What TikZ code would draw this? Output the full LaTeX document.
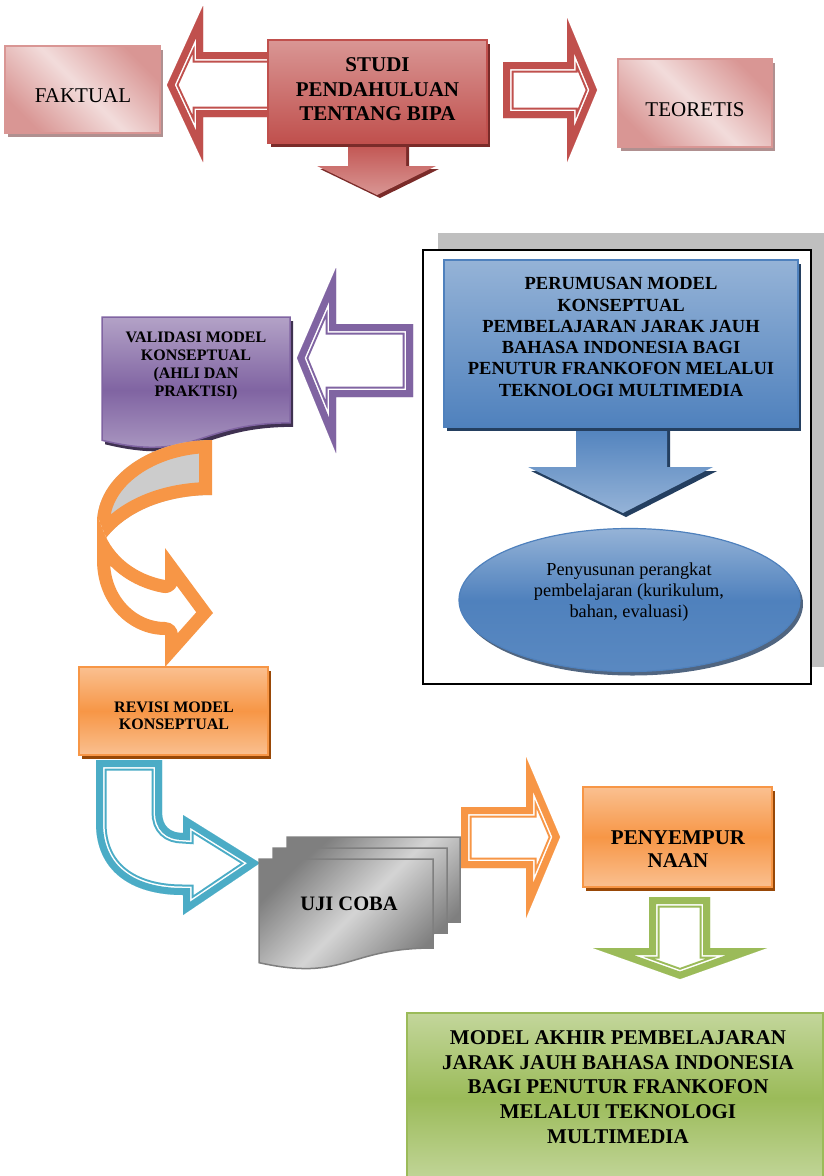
\documentclass[tikz,border=0pt]{standalone}
\usepackage{fontspec}
\setmainfont{Liberation Serif}
\usetikzlibrary{shapes.geometric,shadows}
\definecolor{redA}{HTML}{C0504D}
\definecolor{redL}{HTML}{D99694}
\definecolor{redP}{HTML}{F2DCDB}
\definecolor{redS}{HTML}{7A2B29}
\definecolor{pinkS}{HTML}{B09090}
\definecolor{blueA}{HTML}{4F81BD}
\definecolor{blueL}{HTML}{95B3D7}
\definecolor{blueS}{HTML}{243F60}
\definecolor{purA}{HTML}{8064A2}
\definecolor{purL}{HTML}{B3A2C7}
\definecolor{purS}{HTML}{3F3151}
\definecolor{oraA}{HTML}{F79646}
\definecolor{oraL}{HTML}{FAC090}
\definecolor{oraS}{HTML}{984807}
\definecolor{greA}{HTML}{9BBB59}
\definecolor{greL}{HTML}{C3D69B}
\definecolor{aqua}{HTML}{4BACC6}
\definecolor{grayS}{HTML}{BFBFBF}
\definecolor{docD}{HTML}{7F7F7F}
\definecolor{docL}{HTML}{D4D4D4}
\definecolor{crescent}{HTML}{CCCCCC}

\newcommand\hollowarrow[2]{%
  \begin{scope}
    \clip #2;
    \fill[white] #2;
    \draw[#1,line width=21pt,line join=miter] #2;
    \draw[white,line width=17pt,line join=miter] #2;
    \draw[#1,line width=14pt,line join=miter] #2;
  \end{scope}}
\newcommand\bandshape[3]{%
  \begin{scope}
    \clip #3;
    \fill[#2] #3;
    \draw[#1,line width=26pt,line join=round] #3;
  \end{scope}}
\newcommand\docshape[5]{%
  \path[#5] (#1,#2) -- ({#1+#3},#2) -- ({#1+#3},{#2+0.802*#4})
    .. controls ({#1+0.5*#3},{#2+0.802*#4}) and ({#1+0.5*#3},{#2+1.107*#4}) ..
    (#1,{#2+0.934*#4}) -- cycle;}

\begin{document}
\begin{tikzpicture}[x=1pt,y=-1pt,
  boxshadow/.style={general shadow={fill=#1,shadow xshift=3pt,shadow yshift=-4pt}},
  plain/.style={rectangle,inner sep=0,outer sep=0,line width=1.5pt},
  pinkbox/.style={plain,draw=redL,left color=redL,right color=redL,middle color=redP,shading angle=135,boxshadow=pinkS},
  redbox/.style={plain,draw=redA,top color=redL,bottom color=redA,boxshadow=redS},
  bluebox/.style={plain,draw=blueA,top color=blueL,bottom color=blueA,boxshadow=blueS},
  orabox/.style={plain,draw=oraA,top color=oraL,bottom color=oraL,middle color=oraA,boxshadow=oraS},
  grebox/.style={plain,draw=greA,line width=2pt,top color=greL,bottom color=greL,middle color=greA},
  tR/.style={font=\fontsize{21}{24.5}\selectfont,align=center,inner sep=0},
  tB/.style={font=\fontsize{21}{24.5}\selectfont\bfseries,align=center,inner sep=0},
  tBm/.style={font=\fontsize{18.5}{21.3}\selectfont\bfseries,align=center,inner sep=0},
  tRm/.style={font=\fontsize{18.3}{21}\selectfont,align=center,inner sep=0},
  tBs/.style={font=\fontsize{16}{18.2}\selectfont\bfseries,align=center,inner sep=0},
]
\useasboundingbox (0,0) rectangle (824,1176);

% ---------- top row ----------
\hollowarrow{redA}{(285,52) -- (203,52) -- (203,6) -- (167,85) -- (203,162) -- (203,117) -- (285,117) -- cycle}
\hollowarrow{redA}{(503,62) -- (567,62) -- (567,18) -- (597,90) -- (567,162) -- (567,118) -- (503,118) -- cycle}

\fill[redS] (351,140) -- (409,140) -- (409,169) -- (439,169) -- (380,198) -- (320,169) -- (351,169) -- cycle;
\shade[top color=redA,bottom color=redL] (348,140) -- (406,140) -- (406,166) -- (436,166) -- (377,195) -- (317,166) -- (348,166) -- cycle;

\node[pinkbox,minimum width=155,minimum height=87] (faktualbox) at (82.5,89.5) {};
\node[tR] (faktual) at (83,96) {FAKTUAL};

\node[redbox,minimum width=219,minimum height=103] (studibox) at (377.5,91.5) {};
\node[tB] (studi) at (377.5,89.5) {STUDI\\PENDAHULUAN\\TENTANG BIPA};

\node[pinkbox,minimum width=154,minimum height=88] (teoretisbox) at (695,103) {};
\node[tR] (teoretis) at (695,109.5) {TEORETIS};

% ---------- middle frame ----------
\fill[grayS] (438,233) rectangle (824,667);
\node[plain,draw=black,fill=white,minimum width=388,minimum height=434] (frame) at (617,467) {};

\fill[blueS] (579,425) -- (670,425) -- (670,471) -- (717,471) -- (626,517) -- (531,471) -- (579,471) -- cycle;
\shade[top color=blueA,bottom color=blueL] (576,425) -- (667,425) -- (667,467) -- (713,467) -- (623,513) -- (528,467) -- (576,467) -- cycle;

\node[bluebox,minimum width=354,minimum height=167] (perumusanbox) at (621,343.5) {};
\node[tBm] (perumusan) at (621,337) {PERUMUSAN MODEL\\KONSEPTUAL\\PEMBELAJARAN JARAK JAUH\\BAHASA INDONESIA BAGI\\PENUTUR FRANKOFON MELALUI\\TEKNOLOGI MULTIMEDIA};

\node[ellipse,inner sep=0,line width=1.2pt,draw=blueA,top color=blueL,bottom color=blueA!85!blueL,middle color=blueA,
      general shadow={fill=blueS!80,shadow xshift=3pt,shadow yshift=-4pt},
      minimum width=341,minimum height=143] (penyusunanbox) at (629.5,600) {};
\node[tRm] (penyusunan) at (629,592) {Penyusunan perangkat\\pembelajaran (kurikulum,\\bahan, evaluasi)};

% ---------- left column ----------
\hollowarrow{purA}{(413,324) -- (336,324) -- (336,268) -- (297,358) -- (336,453) -- (336,397) -- (413,397) -- cycle}

\docshape{105}{321}{188}{132}{fill=purS}
\docshape{102}{317}{188}{132}{draw=purA,line width=1.5pt,top color=purL,bottom color=purL,middle color=purA}
\node[tBs] (validasi) at (196,366) {VALIDASI MODEL\\KONSEPTUAL\\(AHLI DAN\\PRAKTISI)};

% curved orange arrow
\bandshape{oraA}{crescent}{(212,440) -- (212,495) .. controls (165,495) and (122,512) .. (101,545) -- (97,523) .. controls (97,477) and (150,440) .. (212,440) -- cycle}
\bandshape{oraA}{white}{(97,515) -- (97,560) .. controls (97,605) and (130,635) .. (165,635) -- (165,667) -- (213,613) -- (165,548) -- (165,580) .. controls (138,575) and (113,558) .. (103,530) -- cycle}

\node[orabox,minimum width=189,minimum height=88] (revisibox) at (173.5,711) {};
\node[tBs,font=\fontsize{16}{17.5}\selectfont\bfseries] (revisi) at (174,716) {REVISI MODEL\\KONSEPTUAL};

% curved blue arrow
\hollowarrow{aqua}{(96,760) -- (162,760) -- (162,812) .. controls (162,826) and (170,833) .. (183,833) -- (183,815) -- (260,863) -- (183,915) -- (183,895) .. controls (130,895) and (96,870) .. (96,823) -- cycle}

% ---------- UJI COBA stack ----------
\docshape{287}{837}{173}{106}{draw=docD,line width=1.5pt,left color=docD,right color=docD,middle color=docL,shading angle=45}
\docshape{273}{848}{174}{106}{draw=docD,line width=1.5pt,left color=docD,right color=docD,middle color=docL,shading angle=45}
\docshape{259}{859}{174}{111}{draw=docD,line width=1.5pt,left color=docD,right color=docD,middle color=docL,shading angle=45}
\node[tB,font=\fontsize{20.5}{24}\selectfont\bfseries] (ujicoba) at (349,904) {UJI COBA};

\hollowarrow{oraA}{(461,807) -- (526,807) -- (526,757) -- (560,837) -- (526,918) -- (526,868) -- (461,868) -- cycle}

\node[orabox,minimum width=189,minimum height=100] (penyempurnaanbox) at (677.5,837) {};
\node[tB,font=\fontsize{21}{23.5}\selectfont\bfseries] (penyempurnaan) at (678,849) {PENYEMPUR\\NAAN};

\hollowarrow{greA}{(649,897) -- (710,897) -- (710,948) -- (767,948) -- (680,979) -- (593,948) -- (649,948) -- cycle}

\node[grebox,minimum width=416,minimum height=170] (modelbox) at (615,1098) {};
\node[tB,font=\fontsize{21}{24.6}\selectfont\bfseries] (model) at (618,1087) {MODEL AKHIR PEMBELAJARAN\\JARAK JAUH BAHASA INDONESIA\\BAGI PENUTUR FRANKOFON\\MELALUI TEKNOLOGI\\MULTIMEDIA};
\end{tikzpicture}
\end{document}
